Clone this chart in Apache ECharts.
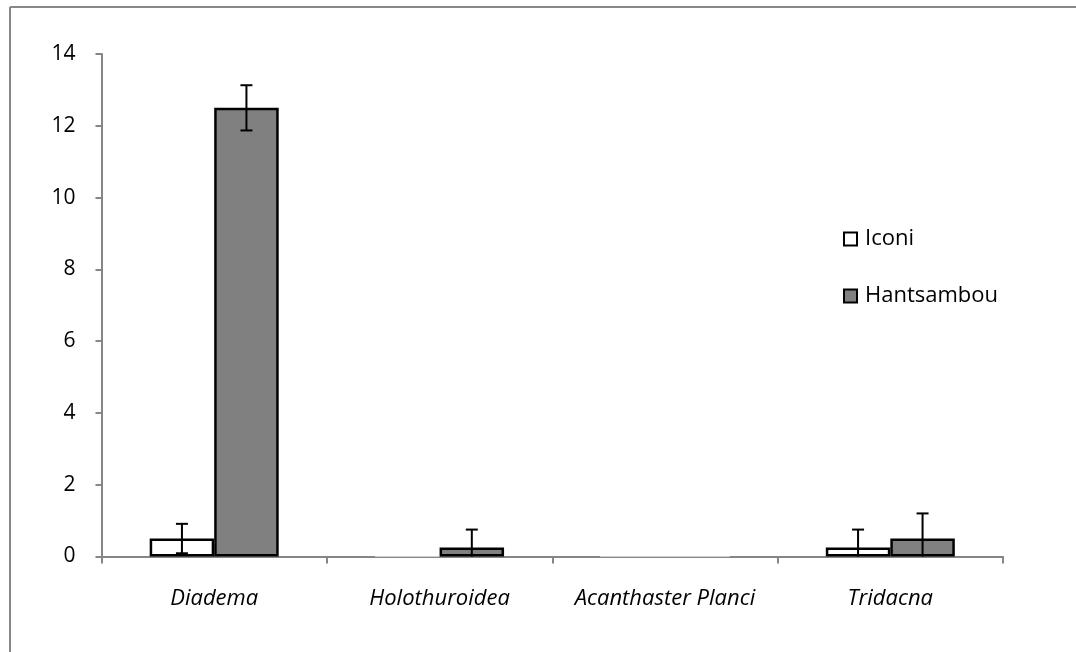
<!DOCTYPE html>
<html><head><meta charset="utf-8">
<script src="https://cdn.jsdelivr.net/npm/echarts@6/dist/echarts.min.js"></script>
<style>html,body{margin:0;padding:0;background:#fff}#c{width:1076px;height:652px}</style>
</head><body><div id="c"></div>
<script>
const categories = ['Diadema', 'Holothuroidea', 'Acanthaster Planci', 'Tridacna'];
const iconi = [0.5, 0, 0, 0.25];
const iconiErr = [0.41, 0, 0, 0.5];
const hantsambou = [12.5, 0.25, 0, 0.5];
const hantsambouErr = [0.63, 0.5, 0, 0.7];
const yTicks = [0, 2, 4, 6, 8, 10, 12, 14];

const font = '"Open Sans", "Noto Sans", sans-serif';

function barData(vals, fill) {
  return vals.map(v => v === 0
    ? { value: v, itemStyle: { color: fill, borderColor: '#d0d0d0', borderWidth: 1 } }
    : v);
}
function errData(vals, errs) {
  return vals.map((v, i) => [i, v, errs[i]]).filter(d => d[2] > 0);
}
function errSeries(vals, errs, offsetIdx) {
  return {
    type: 'custom',
    z: 10,
    data: errData(vals, errs),
    renderItem: function (params, api) {
      const i = api.value(0), v = api.value(1), e = api.value(2);
      const bw = 64.5;
      const off = offsetIdx === 0 ? -bw / 2 : bw / 2;
      const c = api.coord([i, v]);
      const x = c[0] + off;
      const yHi = api.coord([i, v + e])[1];
      const yLo = api.coord([i, Math.max(0, v - e)])[1];
      const cap = 6;
      const st = { stroke: '#000', lineWidth: 2 };
      const children = [
        { type: 'line', shape: { x1: x, y1: yHi, x2: x, y2: yLo }, style: st },
        { type: 'line', shape: { x1: x - cap, y1: yHi, x2: x + cap, y2: yHi }, style: st }
      ];
      if (v - e > 0) children.push({ type: 'line', shape: { x1: x - cap, y1: yLo, x2: x + cap, y2: yLo }, style: st });
      return { type: 'group', children: children };
    }
  };
}

const chart = echarts.init(document.getElementById('c'));
chart.setOption({
  animation: false,
  backgroundColor: '#fff',
  grid: { left: 101.5, right: 73, top: 54, bottom: 95.5, containLabel: false },
  legend: {
    orient: 'vertical', left: 843, top: 228, padding: 0, itemWidth: 13, itemHeight: 13, itemGap: 35,
    icon: 'rect',
    textStyle: { fontFamily: font, fontSize: 22, color: '#000', padding: [0, 0, 0, 3] },
    data: [
      { name: 'Iconi', itemStyle: { color: '#fff', borderColor: '#000', borderWidth: 2 } },
      { name: 'Hantsambou', itemStyle: { color: '#808080', borderColor: '#000', borderWidth: 2 } }
    ]
  },
  xAxis: {
    type: 'category', data: categories,
    axisLine: { lineStyle: { color: '#868686', width: 2 } },
    axisTick: { show: true, interval: 0, length: 7, lineStyle: { color: '#868686', width: 2 } },
    axisLabel: { interval: 0, fontFamily: font, fontSize: 22, fontStyle: 'italic', color: '#000', margin: 31 }
  },
  yAxis: {
    type: 'value', min: 0, max: 14, interval: 2,
    splitLine: { show: false },
    axisLine: { show: true, lineStyle: { color: '#868686', width: 2 } },
    axisTick: { show: true, length: 6, lineStyle: { color: '#868686', width: 2 } },
    axisLabel: { fontFamily: font, fontSize: 21, color: '#000', margin: 26,
      formatter: v => yTicks.includes(v) ? String(v) : '' }
  },
  series: [
    { name: 'Iconi', type: 'bar', barWidth: 64.5, barGap: '0%',
      itemStyle: { color: '#fff', borderColor: '#000', borderWidth: 2.5 },
      data: barData(iconi, '#fff') },
    { name: 'Hantsambou', type: 'bar', barWidth: 64.5, barGap: '0%',
      itemStyle: { color: '#808080', borderColor: '#000', borderWidth: 2.5 },
      data: barData(hantsambou, '#808080') },
    errSeries(iconi, iconiErr, 0),
    errSeries(hantsambou, hantsambouErr, 1)
  ],
  graphic: [
    { type: 'line', shape: { x1: 10, y1: 7, x2: 1076, y2: 7 }, style: { stroke: '#888', lineWidth: 2 } },
    { type: 'line', shape: { x1: 10, y1: 7, x2: 10, y2: 652 }, style: { stroke: '#888', lineWidth: 2 } }
  ]
});
</script>
</body></html>
